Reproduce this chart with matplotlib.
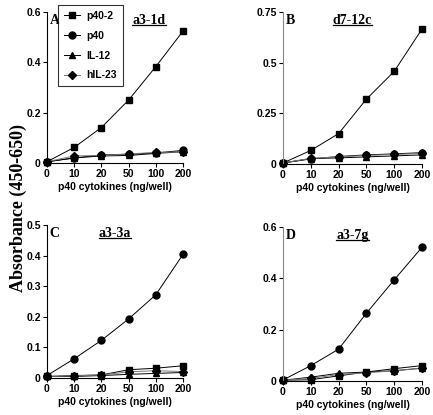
import matplotlib
matplotlib.use("Agg")
import matplotlib.pyplot as plt
from matplotlib.lines import Line2D

doses = ['0', '10', '20', '50', '100', '200']
series = ['p40-2', 'p40', 'IL-12', 'hIL-23']

# panel A: a3-1d
a_p402 = [0.005, 0.062, 0.141, 0.25, 0.383, 0.524]
a_p40 = [0.005, 0.02, 0.032, 0.035, 0.04, 0.05]
a_il12 = [0.005, 0.02, 0.028, 0.03, 0.038, 0.045]
a_hil23 = [0.005, 0.028, 0.03, 0.036, 0.042, 0.044]

# panel B: d7-12c
b_p402 = [0.005, 0.067, 0.15, 0.32, 0.457, 0.666]
b_p40 = [0.005, 0.025, 0.037, 0.045, 0.05, 0.056]
b_il12 = [0.005, 0.027, 0.03, 0.035, 0.04, 0.045]
b_hil23 = [0.005, 0.028, 0.035, 0.042, 0.047, 0.052]

# panel C: a3-3a
c_p402 = [0.005, 0.008, 0.01, 0.027, 0.032, 0.04]
c_p40 = [0.008, 0.063, 0.123, 0.193, 0.272, 0.404]
c_il12 = [0.005, 0.005, 0.008, 0.012, 0.015, 0.018]
c_hil23 = [0.005, 0.007, 0.01, 0.02, 0.024, 0.021]

# panel D: a3-7g
d_p402 = [0.003, 0.005, 0.02, 0.035, 0.048, 0.06]
d_p40 = [0.004, 0.06, 0.124, 0.264, 0.394, 0.521]
d_il12 = [0.003, 0.015, 0.03, 0.035, 0.04, 0.05]
d_hil23 = [0.003, 0.01, 0.025, 0.032, 0.04, 0.05]

panels = [
    ('A', 'a3-1d', [a_p402, a_p40, a_il12, a_hil23], [0, 0.2, 0.4, 0.6], ['0', '0.2', '0.4', '0.6'], 0.6),
    ('B', 'd7-12c', [b_p402, b_p40, b_il12, b_hil23], [0, 0.25, 0.5, 0.75], ['0', '0.25', '0.5', '0.75'], 0.75),
    ('C', 'a3-3a', [c_p402, c_p40, c_il12, c_hil23], [0, 0.1, 0.2, 0.3, 0.4, 0.5], ['0', '0.1', '0.2', '0.3', '0.4', '0.5'], 0.5),
    ('D', 'a3-7g', [d_p402, d_p40, d_il12, d_hil23], [0, 0.2, 0.4, 0.6], ['0', '0.2', '0.4', '0.6'], 0.6),
]

W, H = 433, 415
# pixel boxes: left, right, top, bottom
boxes = [(47, 183, 12, 163), (283, 422, 12, 164), (47, 183, 225, 378), (283, 422, 227, 381)]
markers = ['s', 'o', '^', 'D']
msizes = [4.8, 5, 5, 4]
lcolors = ['black', 'black', 'black', '#777777']
sans = 'Liberation Sans'
serif = 'Liberation Serif'

fig = plt.figure(figsize=(W / 100, H / 100), dpi=100)
titles = []
for (letter, title, data, yt, ytl, ytop), (l, r, t, b) in zip(panels, boxes):
    ax = fig.add_axes([l / W, 1 - b / H, (r - l) / W, (b - t) / H])
    x = range(len(doses))
    for vals, m, ms, lc, name in zip(data, markers, msizes, lcolors, series):
        ax.plot(x, vals, color=lc, lw=0.7, marker=m, ms=ms, mfc='black', mec='black',
                clip_on=False, label=name)
    ax.set_xlim(0, 5)
    ax.set_ylim(0, ytop)
    ax.set_xticks(list(x))
    ax.set_xticklabels(doses)
    ax.set_yticks(yt)
    ax.set_yticklabels(ytl)
    for lab in ax.get_xticklabels() + ax.get_yticklabels():
        lab.set_fontfamily(sans)
        lab.set_fontweight('bold')
        lab.set_fontsize(7.5)
    ax.tick_params(direction='out', length=3, width=0.8, pad=1.5)
    ax.spines['top'].set_visible(False)
    ax.spines['right'].set_visible(False)
    ax.spines['bottom'].set_linewidth(0.8)
    ax.spines['left'].set_linewidth(0.8)
    if letter in ('B', 'D'):
        ax.spines['left'].set_color('#888888')
    ax.set_xlabel('p40 cytokines (ng/well)', fontfamily=sans, fontweight='bold',
                  fontsize=7.5, labelpad=2)
    ax.text(0.02, 0.99, letter, transform=ax.transAxes, fontfamily=serif,
            fontweight='bold', fontsize=10, va='top', ha='left')
    tx = 0.75 if letter == 'A' else 0.5
    tt = ax.text(tx, 0.99, title, transform=ax.transAxes, fontfamily=serif,
                 fontweight='bold', fontsize=10, va='top', ha='center')
    titles.append(tt)
    if letter == 'A':
        ax.legend(loc='upper left', bbox_to_anchor=(58 / W, 1 - 5 / H),
                  bbox_transform=fig.transFigure, borderaxespad=0,
                  prop={'family': sans, 'weight': 'bold', 'size': 7.5},
                  frameon=True, fancybox=False, edgecolor='black',
                  labelspacing=0.95, handlelength=1.6, borderpad=0.55,
                  handletextpad=0.6)
        leg = ax.get_legend()
        leg.get_frame().set_linewidth(0.8)

fig.text(18 / W, 1 - 208 / H, 'Absorbance (450-650)', rotation=90,
         fontfamily=serif, fontweight='bold', fontsize=13, ha='center', va='center')

# underline the panel titles
fig.canvas.draw()
rend = fig.canvas.get_renderer()
for tt in titles:
    bb = tt.get_window_extent(rend)
    x0, y0 = bb.x0 / W, bb.y0 / H
    x1 = bb.x1 / W
    fig.add_artist(Line2D([x0, x1], [y0 + 1.5 / H, y0 + 1.5 / H], color='black', lw=0.9,
                          transform=fig.transFigure))

fig.savefig('out.png', dpi=100)
